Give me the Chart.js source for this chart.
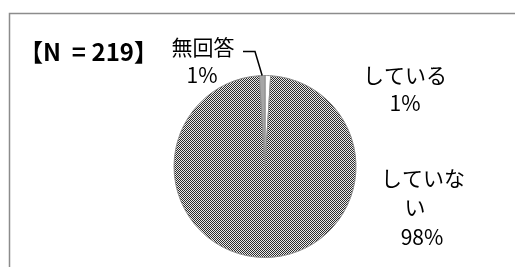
<!DOCTYPE html>
<html lang="ja">
<head>
<meta charset="UTF-8">
<title>N = 219</title>
<script src="https://cdn.jsdelivr.net/npm/chart.js@4.4.0/dist/chart.umd.min.js"></script>
<style>
  html, body { margin: 0; padding: 0; background: #fff; }
  #wrap { width: 515px; height: 267px; position: relative; }
</style>
</head>
<body>
<div id="wrap"><canvas id="chart" width="515" height="267"></canvas></div>
<script>
  // data
  const categories = ['している', 'していない', '無回答'];
  const values = [1, 98, 1];
  const pctLabels = ['1%', '98%', '1%'];
  const titleText = '【N  = 219】';

  // label lines (category name may wrap), offsets from the pie centre
  const labelLines = [['している', '1%'], ['していな', 'い', '98%'], ['無回答', '1%']];
  const labelPos = [
    [[140, -91], [140, -63]],
    [[158, 12], [150, 41], [157, 71]],
    [[-62, -119], [-63, -91]]
  ];

  // checkered fill like the excel pattern
  function checker() {
    const c = document.createElement('canvas');
    c.width = 2; c.height = 2;
    const g = c.getContext('2d');
    g.fillStyle = '#eaeaea'; g.fillRect(0, 0, 2, 2);
    g.fillStyle = '#2c2c2c'; g.fillRect(0, 0, 1, 1); g.fillRect(1, 1, 1, 1);
    return g.createPattern(c, 'repeat');
  }
  const pat = checker();

  const decor = {
    id: 'decor',
    beforeDraw(chart) {
      const ctx = chart.ctx;
      ctx.save();
      ctx.strokeStyle = '#8c8c8c';
      ctx.lineWidth = 1.5;
      ctx.strokeRect(9.5, 13.5, 520, 270);
      ctx.restore();
    },
    afterDraw(chart) {
      const ctx = chart.ctx;
      const arcs = chart.getDatasetMeta(0).data;
      const cx = arcs[0].x, cy = arcs[0].y;
      ctx.save();
      ctx.fillStyle = '#000';
      ctx.textBaseline = 'middle';
      ctx.font = 'bold 24px "Noto Sans CJK JP", sans-serif';
      ctx.textAlign = 'left';
      ctx.fillText(titleText, 19, 52);

      ctx.font = '21px "Noto Sans CJK JP", sans-serif';
      ctx.textAlign = 'center';
      labelLines.forEach((lines, i) => {
        lines.forEach((t, j) => {
          ctx.fillText(t, cx + labelPos[i][j][0], cy + labelPos[i][j][1]);
        });
      });

      // leader line for 無回答
      const a = arcs[2];
      const mid = (a.startAngle + a.endAngle) / 2;
      const ex = cx + Math.cos(mid) * a.outerRadius;
      const ey = cy + Math.sin(mid) * a.outerRadius;
      ctx.strokeStyle = '#000';
      ctx.lineWidth = 1.5;
      ctx.beginPath();
      ctx.moveTo(cx - 22, cy - 115);
      ctx.lineTo(cx - 10, cy - 115);
      ctx.lineTo(ex, ey);
      ctx.stroke();
      ctx.restore();
    }
  };

  new Chart(document.getElementById('chart'), {
    type: 'pie',
    data: {
      labels: categories,
      datasets: [{
        data: values,
        backgroundColor: ['#ffffff', pat, '#a6a6a6'],
        borderColor: '#8c8c8c',
        borderWidth: 1
      }]
    },
    options: {
      responsive: false,
      animation: false,
      layout: { padding: { top: 75, bottom: 9, left: 173, right: 158 } },
      plugins: {
        legend: { display: false },
        tooltip: { enabled: false },
        title: { display: false }
      }
    },
    plugins: [decor]
  });
</script>
</body>
</html>
